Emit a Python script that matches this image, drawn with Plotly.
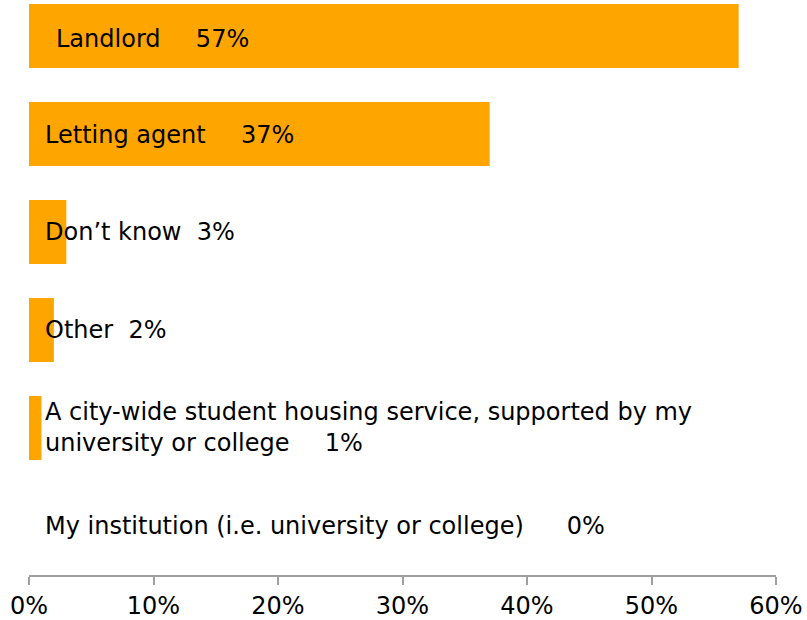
import plotly.graph_objects as go

# Survey responses, listed top to bottom
categories = [
    "Landlord",
    "Letting agent",
    "Don\u2019t know",
    "Other",
    "A city-wide student housing service, supported by my<br>university or college",
    "My institution (i.e. university or college)",
]
values = [57, 37, 3, 2, 1, 0]
x_ticks = [0, 10, 20, 30, 40, 50, 60]
x_tick_labels = ["0%", "10%", "20%", "30%", "40%", "50%", "60%"]

# whitespace between each category name and its value, and label offsets in px
NBSP, THIN = "\u00a0", "\u2009"
gaps = [NBSP * 4 + THIN, NBSP * 4 + THIN, NBSP * 2, NBSP * 2, NBSP * 4 + THIN, NBSP * 5 + THIN]
label_xshift = [25, 14, 14, 14, 14, 14]
label_yshift = [-3, -1, 0, 0, 0, 0]

FONT = "DejaVu Sans"
ORANGE = "#FFA500"

fig = go.Figure(
    go.Bar(
        x=values,
        y=categories,
        orientation="h",
        width=0.653,
        marker=dict(color=ORANGE, line=dict(width=0)),
        hoverinfo="skip",
    )
)

for cat, val, gap, dx, dy in zip(categories, values, gaps, label_xshift, label_yshift):
    fig.add_annotation(
        x=0,
        y=cat,
        xref="x",
        yref="y",
        text=f"{cat}{gap}{val}%",
        showarrow=False,
        xanchor="left",
        yanchor="middle",
        align="left",
        xshift=dx,
        yshift=dy,
        font=dict(family=FONT, size=24, color="#000000"),
    )

fig.update_layout(
    width=807,
    height=620,
    margin=dict(l=29, r=31, t=0, b=45),
    paper_bgcolor="white",
    plot_bgcolor="white",
    showlegend=False,
    font=dict(family=FONT, size=24, color="#000000"),
    xaxis=dict(
        range=[0, 60],
        tickvals=x_ticks,
        ticktext=x_tick_labels,
        showgrid=False,
        zeroline=False,
        showline=True,
        linecolor="#A0A0A0",
        linewidth=1.5,
        ticks="outside",
        ticklen=8,
        tickwidth=1.5,
        tickcolor="#A0A0A0",
        tickfont=dict(family=FONT, size=24, color="#000000"),
        fixedrange=True,
    ),
    yaxis=dict(
        type="category",
        categoryorder="array",
        categoryarray=categories[::-1],
        range=[-0.5, 5.367],
        showticklabels=False,
        showgrid=False,
        zeroline=False,
        showline=False,
        ticks="",
        fixedrange=True,
    ),
)

fig.write_html("out.html")
